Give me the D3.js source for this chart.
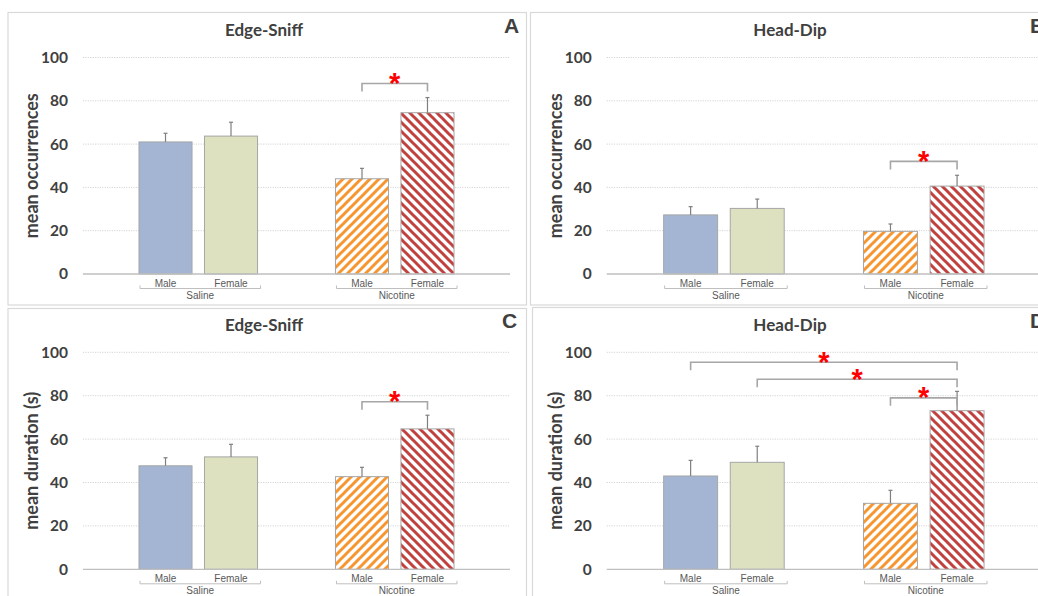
<!DOCTYPE html>
<html>
<head>
<meta charset="utf-8">
<script src="https://cdn.jsdelivr.net/npm/d3@7"></script>
<style>
  body { margin: 0; background: #fff; }
  svg { display: block; }
</style>
</head>
<body>
<svg width="1038" height="596"></svg>
<script>
// --- data ---
var groups = ["Saline", "Nicotine"];
var sexes = ["Male", "Female"];
var yTicks = [0, 20, 40, 60, 80, 100];

// order: Saline Male, Saline Female, Nicotine Male, Nicotine Female
var sniffCountMean = [61, 63.7, 44, 74.5];
var sniffCountErr  = [4, 6.4, 4.8, 7];
var dipCountMean   = [27.3, 30.3, 19.7, 40.6];
var dipCountErr    = [3.8, 4.3, 3.4, 5];
var sniffTimeMean  = [47.7, 51.8, 42.7, 64.7];
var sniffTimeErr   = [3.7, 5.8, 4.3, 6.3];
var dipTimeMean    = [43, 49.3, 30.4, 73.1];
var dipTimeErr     = [7.2, 7.4, 6, 8.9];

// significance brackets: [from bar, to bar, level]
var sniffCountSig = [[2, 3, 88]];
var dipCountSig   = [[2, 3, 52]];
var sniffTimeSig  = [[2, 3, 77.2]];
var dipTimeSig    = [[0, 3, 95.4], [1, 3, 87.6], [2, 3, 79]];

var svg = d3.select("svg");

// bar keys, with an empty slot between the two groups
var barKeys = [];
groups.forEach(function(g) { sexes.forEach(function(s) { barKeys.push(g + "|" + s); }); });
var slotKeys = [barKeys[0], barKeys[1], "gap", barKeys[2], barKeys[3]];

var fills = ["#a3b5d3", "#dde1c0", "url(#upDiag)", "url(#downDiag)"];

// stripe patterns
var defs = svg.append("defs");
function stripes(id, color, up) {
  var s = 9;
  var p = defs.append("pattern")
    .attr("id", id)
    .attr("patternUnits", "userSpaceOnUse")
    .attr("width", s).attr("height", s);
  p.append("rect").attr("width", s).attr("height", s).attr("fill", "#fff");
  p.append("path")
    .attr("d", up
      ? "M-2,2L2,-2M0," + s + "L" + s + ",0M" + (s - 2) + "," + (s + 2) + "L" + (s + 2) + "," + (s - 2)
      : "M-2," + (s - 2) + "L2," + (s + 2) + "M0,0L" + s + "," + s + "M" + (s - 2) + ",-2L" + (s + 2) + ",2")
    .attr("stroke", color)
    .attr("stroke-width", 3);
}
stripes("upDiag", "#f7952f", true);
stripes("downDiag", "#c1413f", false);

var panels = [
  {box: [8, 12.5, 526.5, 305], plot: [83, 510, 57.5, 274], title: "Edge-Sniff", titleX: 264,
   letter: "A", letterX: 504, yTitle: "mean occurrences", mean: sniffCountMean, err: sniffCountErr, sig: sniffCountSig},
  {box: [530.5, 12.5, 1050, 305], plot: [606.7, 1041, 57.5, 274], title: "Head-Dip", titleX: 790,
   letter: "B", letterX: 1030, yTitle: "mean occurrences", mean: dipCountMean, err: dipCountErr, sig: dipCountSig},
  {box: [8, 308.5, 526.5, 610], plot: [83, 510, 352.3, 569.3], title: "Edge-Sniff", titleX: 264,
   letter: "C", letterX: 502, yTitle: "mean duration (s)", mean: sniffTimeMean, err: sniffTimeErr, sig: sniffTimeSig},
  {box: [532.5, 307.5, 1050, 610], plot: [606.7, 1041, 352.3, 569.3], title: "Head-Dip", titleX: 790,
   letter: "D", letterX: 1030, yTitle: "mean duration (s)", mean: dipTimeMean, err: dipTimeErr, sig: dipTimeSig}
];

panels.forEach(function(p) {
  var g = svg.append("g");
  var left = p.plot[0], right = p.plot[1], top = p.plot[2], base = p.plot[3];

  g.append("rect")
    .attr("x", p.box[0]).attr("y", p.box[1])
    .attr("width", p.box[2] - p.box[0]).attr("height", p.box[3] - p.box[1])
    .attr("fill", "none").attr("stroke", "#d9d9d9").attr("stroke-width", 1.2);

  var x = d3.scaleBand().domain(slotKeys).range([left, right])
    .paddingInner(0.19).paddingOuter(0.855);
  var y = d3.scaleLinear().domain([0, 100]).range([base, top]);
  var bw = x.bandwidth();

  // gridlines
  g.selectAll(".grid").data(yTicks.filter(function(t) { return t > 0; }))
    .enter().append("line")
    .attr("x1", left).attr("x2", right)
    .attr("y1", function(d) { return y(d); }).attr("y2", function(d) { return y(d); })
    .attr("stroke", "#d4d4d4").attr("stroke-dasharray", "1.2,1.2");

  // y axis labels (no axis line)
  var yAxis = d3.axisLeft(y).tickValues(yTicks).tickSize(0).tickPadding(15);
  var ya = g.append("g").attr("transform", "translate(" + left + ",0)").call(yAxis);
  ya.select(".domain").remove();
  ya.selectAll("text")
    .attr("font-family", "Lato, 'Open Sans', sans-serif")
    .attr("font-weight", "bold").attr("font-size", 15.5).attr("fill", "#404040");

  // bars
  g.selectAll(".bar").data(p.mean)
    .enter().append("rect")
    .attr("x", function(d, i) { return x(barKeys[i]); })
    .attr("y", function(d) { return y(d); })
    .attr("width", bw)
    .attr("height", function(d) { return y(0) - y(d); })
    .attr("fill", function(d, i) { return fills[i]; })
    .attr("stroke", "#a6a6a6").attr("stroke-width", 1);

  // error bars
  p.mean.forEach(function(m, i) {
    var cx = x(barKeys[i]) + bw / 2;
    g.append("line").attr("x1", cx).attr("x2", cx)
      .attr("y1", y(m)).attr("y2", y(m + p.err[i]))
      .attr("stroke", "#7f7f7f").attr("stroke-width", 1.2);
    g.append("line").attr("x1", cx - 2).attr("x2", cx + 2)
      .attr("y1", y(m + p.err[i])).attr("y2", y(m + p.err[i]))
      .attr("stroke", "#7f7f7f").attr("stroke-width", 1.2);
  });

  // base line
  g.append("line").attr("x1", left).attr("x2", right)
    .attr("y1", base).attr("y2", base)
    .attr("stroke", "#bfbfbf").attr("stroke-width", 1.3);

  // category labels
  barKeys.forEach(function(k) {
    g.append("text")
      .attr("x", x(k) + bw / 2).attr("y", base + 12.5)
      .attr("text-anchor", "middle")
      .attr("font-family", "'Liberation Sans', Arial, sans-serif")
      .attr("font-size", 10).attr("fill", "#595959")
      .text(k.split("|")[1]);
  });

  // group brackets and labels
  groups.forEach(function(grp, gi) {
    var x0 = x(barKeys[gi * 2]) + 1, x1 = x(barKeys[gi * 2 + 1]) + bw + 3;
    var by = base + 14.5;
    g.append("path")
      .attr("d", "M" + x0 + "," + (by - 3) + "V" + by + "H" + x1 + "V" + (by - 3))
      .attr("fill", "none").attr("stroke", "#bfbfbf").attr("stroke-width", 1);
    g.append("text")
      .attr("x", (x0 + x1) / 2).attr("y", by + 10)
      .attr("text-anchor", "middle")
      .attr("font-family", "'Liberation Sans', Arial, sans-serif")
      .attr("font-size", 10).attr("fill", "#595959")
      .text(grp);
  });

  // significance brackets
  p.sig.forEach(function(s) {
    var xa = x(barKeys[s[0]]) + bw / 2, xb = x(barKeys[s[1]]) + bw / 2;
    var ly = y(s[2]);
    g.append("path")
      .attr("d", "M" + xa + "," + (ly + 8) + "V" + ly + "H" + xb + "V" + (ly + 8))
      .attr("fill", "none").attr("stroke", "#a6a6a6").attr("stroke-width", 1.6);
    g.append("text")
      .attr("x", (xa + xb) / 2).attr("y", ly + 9.5)
      .attr("text-anchor", "middle")
      .attr("font-family", "'Liberation Sans', Arial, sans-serif")
      .attr("font-weight", "bold").attr("font-size", 29).attr("fill", "#ff0000")
      .text("*");
  });

  // titles
  g.append("text")
    .attr("x", p.titleX).attr("y", top - 21.5)
    .attr("text-anchor", "middle")
    .attr("font-family", "Lato, 'Open Sans', sans-serif")
    .attr("font-weight", "bold").attr("font-size", 17).attr("fill", "#404040")
    .text(p.title);

  g.append("text")
    .attr("x", p.letterX).attr("y", top - 24.8)
    .attr("font-family", "'Liberation Sans', Arial, sans-serif")
    .attr("font-weight", "bold").attr("font-size", 21).attr("fill", "#404040")
    .text(p.letter);

  g.append("text")
    .attr("transform", "translate(" + (left - 51) + "," + ((top + base) / 2) + ") rotate(-90)")
    .attr("text-anchor", "middle").attr("dy", "0.35em")
    .attr("font-family", "Lato, 'Open Sans', sans-serif")
    .attr("font-weight", "bold").attr("font-size", 18).attr("fill", "#404040")
    .text(p.yTitle);
});
</script>
</body>
</html>
